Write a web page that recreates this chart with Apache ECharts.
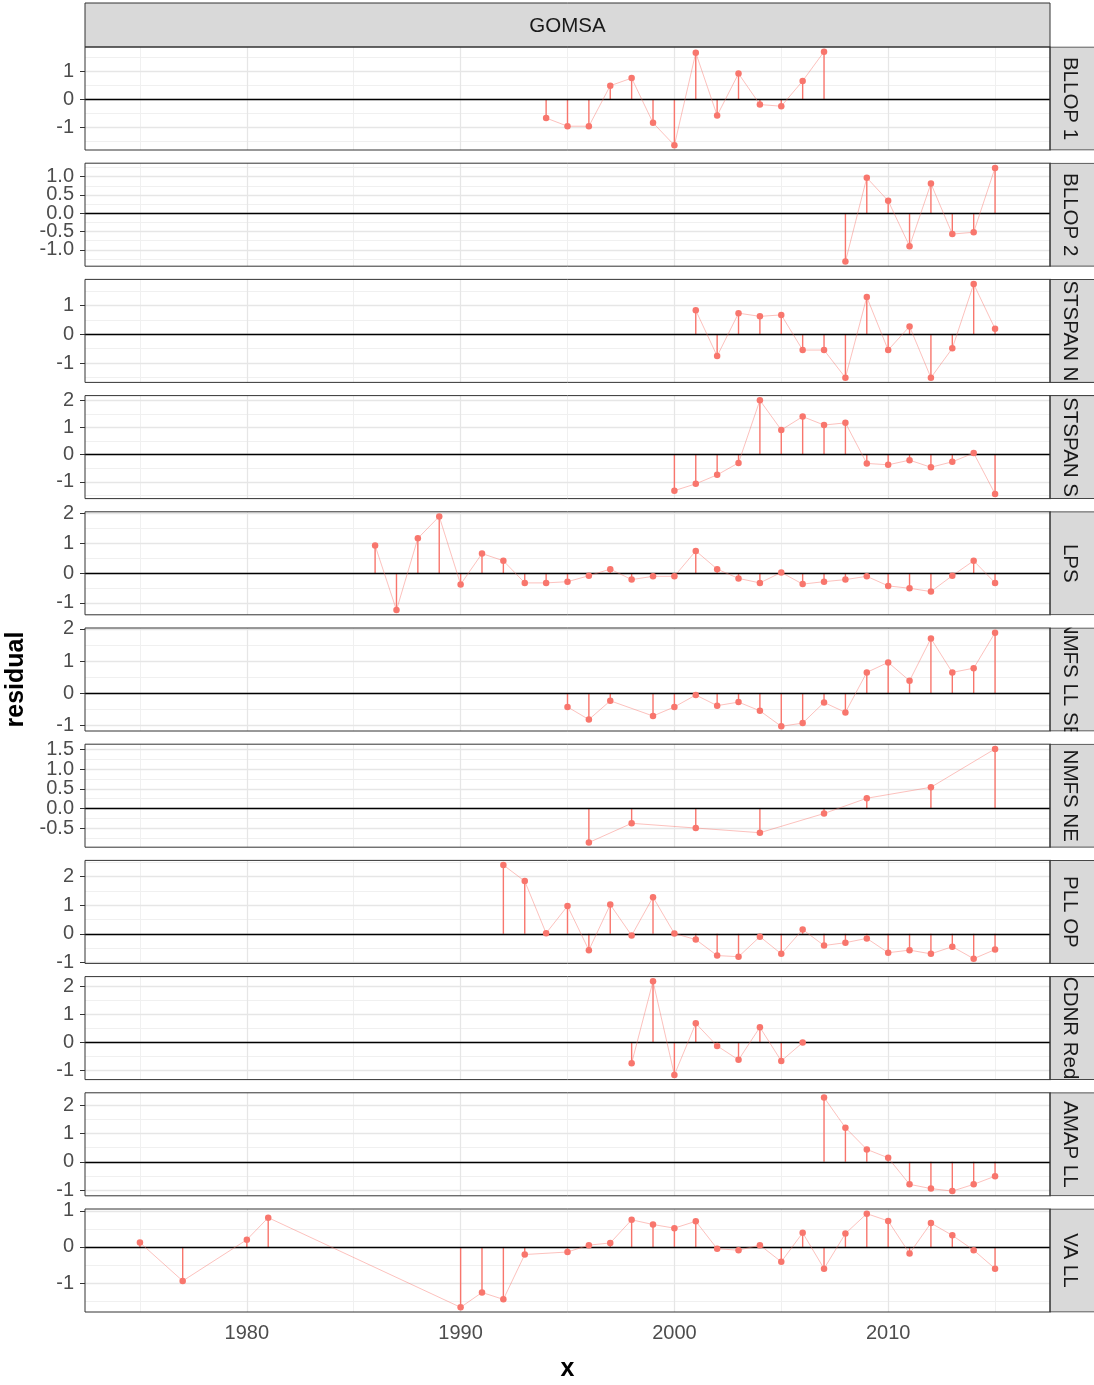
<!DOCTYPE html>
<html>
<head>
<meta charset="utf-8">
<script src="https://cdn.jsdelivr.net/npm/echarts@6/dist/echarts.min.js"></script>
<style>
  html, body { margin: 0; padding: 0; background: #ffffff; }
  #chart { width: 1094px; height: 1385px; }
</style>
</head>
<body>
<div id="chart"></div>
<script>
// Index residuals by year, one facet row per index (region GOMSA)
const regionName = 'GOMSA';
const panelNames = ['BLLOP 1', 'BLLOP 2', 'STSPAN N', 'STSPAN S', 'LPS', 'NMFS LL SE',
                    'NMFS NE', 'PLL OP', 'CDNR Red', 'AMAP LL', 'VA LL'];

const yearsBllop1 = [1994, 1995, 1996, 1997, 1998, 1999, 2000, 2001, 2002, 2003, 2004, 2005, 2006, 2007];
const residBllop1 = [-0.66, -0.95, -0.95, 0.49, 0.76, -0.83, -1.63, 1.66, -0.57, 0.92, -0.18, -0.24, 0.66, 1.70];

const yearsBllop2 = [2008, 2009, 2010, 2011, 2012, 2013, 2014, 2015];
const residBllop2 = [-1.32, 0.97, 0.34, -0.90, 0.81, -0.57, -0.52, 1.24];

const yearsStspanN = [2001, 2002, 2003, 2004, 2005, 2006, 2007, 2008, 2009, 2010, 2011, 2012, 2013, 2014, 2015];
const residStspanN = [0.83, -0.76, 0.73, 0.62, 0.67, -0.55, -0.55, -1.51, 1.29, -0.55, 0.27, -1.51, -0.49, 1.74, 0.19];

const yearsStspanS = [2000, 2001, 2002, 2003, 2004, 2005, 2006, 2007, 2008, 2009, 2010, 2011, 2012, 2013, 2014, 2015];
const residStspanS = [-1.32, -1.07, -0.74, -0.30, 2.00, 0.91, 1.40, 1.09, 1.17, -0.32, -0.37, -0.20, -0.46, -0.26, 0.06, -1.44];

const yearsLps = [1986, 1987, 1988, 1989, 1990, 1991, 1992, 1993, 1994, 1995, 1996, 1997, 1998, 1999, 2000,
                  2001, 2002, 2003, 2004, 2005, 2006, 2007, 2008, 2009, 2010, 2011, 2012, 2013, 2014, 2015];
const residLps = [0.92, -1.24, 1.16, 1.89, -0.38, 0.65, 0.41, -0.33, -0.33, -0.29, -0.09, 0.13, -0.22, -0.11, -0.11,
                  0.74, 0.13, -0.18, -0.33, 0.02, -0.37, -0.29, -0.22, -0.11, -0.43, -0.51, -0.62, -0.09, 0.41, -0.33];

const yearsNmfsLl = [1995, 1996, 1997, 1999, 2000, 2001, 2002, 2003, 2004, 2005, 2006, 2007, 2008, 2009, 2010,
                     2011, 2012, 2013, 2014, 2015];
const residNmfsLl = [-0.42, -0.81, -0.23, -0.70, -0.42, -0.05, -0.38, -0.27, -0.54, -1.02, -0.92, -0.28, -0.59, 0.65, 0.96,
                     0.39, 1.70, 0.65, 0.78, 1.88];

const yearsNmfsNe = [1996, 1998, 2001, 2004, 2007, 2009, 2012, 2015];
const residNmfsNe = [-0.87, -0.38, -0.50, -0.62, -0.13, 0.26, 0.54, 1.52];

const yearsPllOp = [1992, 1993, 1994, 1995, 1996, 1997, 1998, 1999, 2000, 2001, 2002, 2003, 2004, 2005, 2006,
                    2007, 2008, 2009, 2010, 2011, 2012, 2013, 2014, 2015];
const residPllOp = [2.40, 1.84, 0.02, 0.97, -0.57, 1.02, -0.06, 1.28, 0.01, -0.20, -0.76, -0.80, -0.10, -0.70, 0.15,
                    -0.41, -0.31, -0.16, -0.66, -0.57, -0.70, -0.45, -0.87, -0.55];

const yearsCdnr = [1998, 1999, 2000, 2001, 2002, 2003, 2004, 2005, 2006];
const residCdnr = [-0.75, 2.19, -1.17, 0.68, -0.13, -0.63, 0.54, -0.67, -0.01];

const yearsAmap = [2007, 2008, 2009, 2010, 2011, 2012, 2013, 2014, 2015];
const residAmap = [2.28, 1.21, 0.44, 0.14, -0.80, -0.95, -1.04, -0.80, -0.51];

const yearsVaLl = [1975, 1977, 1980, 1981, 1990, 1991, 1992, 1993, 1995, 1996, 1997, 1998, 1999, 2000, 2001,
                   2002, 2003, 2004, 2005, 2006, 2007, 2008, 2009, 2010, 2011, 2012, 2013, 2014, 2015];
const residVaLl = [0.12, -0.94, 0.20, 0.81, -1.67, -1.26, -1.45, -0.21, -0.14, 0.05, 0.11, 0.75, 0.62, 0.52, 0.71,
                   -0.05, -0.09, 0.05, -0.41, 0.39, -0.60, 0.37, 0.92, 0.72, -0.18, 0.66, 0.32, -0.09, -0.60];

// y tick values for each facet
const ticksBllop1 = [-1, 0, 1];
const ticksBllop2 = [-1.0, -0.5, 0.0, 0.5, 1.0];
const ticksStspanN = [-1, 0, 1];
const ticksStspanS = [-1, 0, 1, 2];
const ticksLps = [-1, 0, 1, 2];
const ticksNmfsLl = [-1, 0, 1, 2];
const ticksNmfsNe = [-0.5, 0.0, 0.5, 1.0, 1.5];
const ticksPllOp = [-1, 0, 1, 2];
const ticksCdnr = [-1, 0, 1, 2];
const ticksAmap = [-1, 0, 1, 2];
const ticksVaLl = [-1, 0, 1];

// x ticks (shared)
const xTicks = [1980, 1990, 2000, 2010];
const xMinorTicks = [1975, 1985, 1995, 2005, 2015];
const xRange = [1972.43, 2017.57];

const panels = [
  { years: yearsBllop1, resid: residBllop1, ticks: ticksBllop1, digits: 0 },
  { years: yearsBllop2, resid: residBllop2, ticks: ticksBllop2, digits: 1 },
  { years: yearsStspanN, resid: residStspanN, ticks: ticksStspanN, digits: 0 },
  { years: yearsStspanS, resid: residStspanS, ticks: ticksStspanS, digits: 0 },
  { years: yearsLps, resid: residLps, ticks: ticksLps, digits: 0 },
  { years: yearsNmfsLl, resid: residNmfsLl, ticks: ticksNmfsLl, digits: 0 },
  { years: yearsNmfsNe, resid: residNmfsNe, ticks: ticksNmfsNe, digits: 1 },
  { years: yearsPllOp, resid: residPllOp, ticks: ticksPllOp, digits: 0 },
  { years: yearsCdnr, resid: residCdnr, ticks: ticksCdnr, digits: 0 },
  { years: yearsAmap, resid: residAmap, ticks: ticksAmap, digits: 0 },
  { years: yearsVaLl, resid: residVaLl, ticks: ticksVaLl, digits: 0 }
];

// layout
const LEFT = 85, RIGHT = 1050;
const TOP0 = 47, STEP = 116.2, PANEL_H = 103;
const STRIP_W = 46;
const FONT = '"Liberation Sans", Arial, sans-serif';
const TICK_FONT = 20;
const POINT = '#F8766D';

const grids = [], xAxes = [], yAxes = [], series = [], graphics = [];

function yAxisFor(gridIndex, yMin, yMax, values, digits) {
  return {
    type: 'value', gridIndex: gridIndex, min: yMin, max: yMax, position: 'left',
    axisLine: { show: false },
    splitLine: { show: false },
    axisTick: { show: true, customValues: values, length: 5, lineStyle: { color: '#333333', width: 1 } },
    axisLabel: {
      show: true, customValues: values, color: '#4D4D4D', fontSize: TICK_FONT, fontFamily: FONT, margin: 11,
      interval: 0, showMinLabel: true, showMaxLabel: true, hideOverlap: false,
      formatter: v => Number(v).toFixed(digits)
    }
  };
}

panels.forEach((p, i) => {
  const top = TOP0 + i * STEP;
  const lo = Math.min(...p.resid), hi = Math.max(...p.resid);
  const pad = (hi - lo) * 0.05;
  const yMin = lo - pad, yMax = hi + pad;
  const isLast = i === panels.length - 1;

  grids.push({ left: LEFT, top: top, width: RIGHT - LEFT, height: PANEL_H, containLabel: false });

  xAxes.push({
    type: 'value', gridIndex: i, min: xRange[0], max: xRange[1],
    axisLine: { show: false },
    splitLine: { show: false },
    axisTick: isLast ? { show: true, customValues: xTicks, length: 5, lineStyle: { color: '#333333', width: 1 } } : { show: false },
    axisLabel: isLast ? {
      show: true, customValues: xTicks, color: '#4D4D4D', fontSize: TICK_FONT, fontFamily: FONT, margin: 11,
      interval: 0, showMinLabel: true, showMaxLabel: true, hideOverlap: false,
      formatter: v => String(Math.round(v))
    } : { show: false }
  });

  // tightly packed tick labels are split over two coincident axes so none get dropped
  const evenTicks = p.ticks.filter((v, k) => k % 2 === 0);
  const oddTicks = p.ticks.filter((v, k) => k % 2 === 1);
  const yIdx = yAxes.length;
  yAxes.push(yAxisFor(i, yMin, yMax, evenTicks, p.digits));
  yAxes.push(yAxisFor(i, yMin, yMax, oddTicks, p.digits));

  // background grid lines
  const step = p.ticks[1] - p.ticks[0];
  const minorY = [];
  for (let v = p.ticks[0] - step / 2; v <= yMax; v += step) {
    if (v >= yMin) minorY.push(v);
  }
  const gridLines = [];
  minorY.forEach(v => gridLines.push({ yAxis: v, lineStyle: { color: '#F0F0F0', width: 1, type: 'solid' } }));
  xMinorTicks.forEach(v => gridLines.push({ xAxis: v, lineStyle: { color: '#F0F0F0', width: 1, type: 'solid' } }));
  p.ticks.forEach(v => gridLines.push({ yAxis: v, lineStyle: { color: '#E6E6E6', width: 1.3, type: 'solid' } }));
  xTicks.forEach(v => gridLines.push({ xAxis: v, lineStyle: { color: '#E6E6E6', width: 1.3, type: 'solid' } }));

  series.push({
    type: 'line', xAxisIndex: i, yAxisIndex: yIdx, data: [], z: 1, silent: true,
    markLine: { z: 1, symbol: ['none', 'none'], silent: true, animation: false, label: { show: false }, data: gridLines }
  });

  const pts = p.years.map((y, j) => [y, p.resid[j]]);

  // vertical segments from zero to each residual, drawn as thin filled bars
  series.push({
    type: 'custom', xAxisIndex: i, yAxisIndex: yIdx, data: pts, z: 3, silent: true,
    renderItem: (params, api) => {
      const a = api.coord([api.value(0), 0]);
      const b = api.coord([api.value(0), api.value(1)]);
      return {
        type: 'rect',
        shape: { x: a[0] - 0.7, y: Math.min(a[1], b[1]), width: 1.4, height: Math.abs(b[1] - a[1]) },
        style: { fill: POINT, stroke: null }
      };
    }
  });

  // zero reference line
  series.push({
    type: 'line', xAxisIndex: i, yAxisIndex: yIdx, data: [], z: 4, silent: true,
    markLine: {
      z: 4, symbol: ['none', 'none'], silent: true, animation: false, label: { show: false },
      data: [{ yAxis: 0, lineStyle: { color: '#000000', width: 1.3, type: 'solid' } }]
    }
  });

  // connecting line with points
  series.push({
    type: 'line', xAxisIndex: i, yAxisIndex: yIdx, data: pts, z: 5, silent: true,
    symbol: 'circle', symbolSize: 6.5, showSymbol: true,
    lineStyle: { color: 'rgba(248,118,109,0.45)', width: 1 },
    itemStyle: { color: POINT, borderWidth: 0 }
  });

  // panel border
  graphics.push({
    type: 'rect', z: 100, silent: true,
    shape: { x: LEFT, y: top, width: RIGHT - LEFT, height: PANEL_H },
    style: { fill: 'none', stroke: '#333333', lineWidth: 1 }
  });

  // right-hand facet strip
  graphics.push({
    type: 'rect', z: 90, silent: true,
    shape: { x: RIGHT, y: top, width: STRIP_W, height: PANEL_H },
    style: { fill: '#D9D9D9', stroke: '#333333', lineWidth: 1 }
  });
  graphics.push({
    type: 'text', z: 91, silent: true,
    x: RIGHT + 20, y: top + PANEL_H / 2, rotation: -Math.PI / 2,
    style: { text: panelNames[i], fill: '#1A1A1A', font: '20.5px ' + FONT, align: 'center', verticalAlign: 'middle' }
  });
});

// clip the strip labels to their own strips
const coverRects = [{ y: 0, h: TOP0 - 0.5 }];
for (let i = 0; i < panels.length - 1; i++) {
  const bottom = TOP0 + i * STEP + PANEL_H;
  coverRects.push({ y: bottom + 0.5, h: STEP - PANEL_H - 1 });
}
const lastBottom = TOP0 + (panels.length - 1) * STEP + PANEL_H;
coverRects.push({ y: lastBottom + 0.5, h: 1385 - lastBottom });
coverRects.forEach(r => graphics.push({
  type: 'rect', z: 95, silent: true,
  shape: { x: RIGHT + 1, y: r.y, width: 60, height: r.h },
  style: { fill: '#ffffff' }
}));

// top strip with region name
graphics.push({
  type: 'rect', z: 90, silent: true,
  shape: { x: LEFT, y: 3, width: RIGHT - LEFT, height: TOP0 - 3 },
  style: { fill: '#D9D9D9', stroke: '#333333', lineWidth: 1 }
});
graphics.push({
  type: 'text', z: 91, silent: true, x: (LEFT + RIGHT) / 2, y: 26,
  style: { text: regionName, fill: '#1A1A1A', font: '20.5px ' + FONT, align: 'center', verticalAlign: 'middle' }
});

// axis titles
graphics.push({
  type: 'text', z: 91, silent: true, x: 16, y: (TOP0 + lastBottom) / 2, rotation: Math.PI / 2,
  style: { text: 'residual', fill: '#000000', font: 'bold 25px ' + FONT, align: 'center', verticalAlign: 'middle' }
});
graphics.push({
  type: 'text', z: 91, silent: true, x: (LEFT + RIGHT) / 2, y: 1369,
  style: { text: 'x', fill: '#000000', font: 'bold 25px ' + FONT, align: 'center', verticalAlign: 'middle' }
});

const chart = echarts.init(document.getElementById('chart'), null, { renderer: 'canvas' });
chart.setOption({
  animation: false,
  backgroundColor: '#ffffff',
  grid: grids,
  xAxis: xAxes,
  yAxis: yAxes,
  series: series,
  graphic: { elements: graphics }
});
</script>
</body>
</html>
